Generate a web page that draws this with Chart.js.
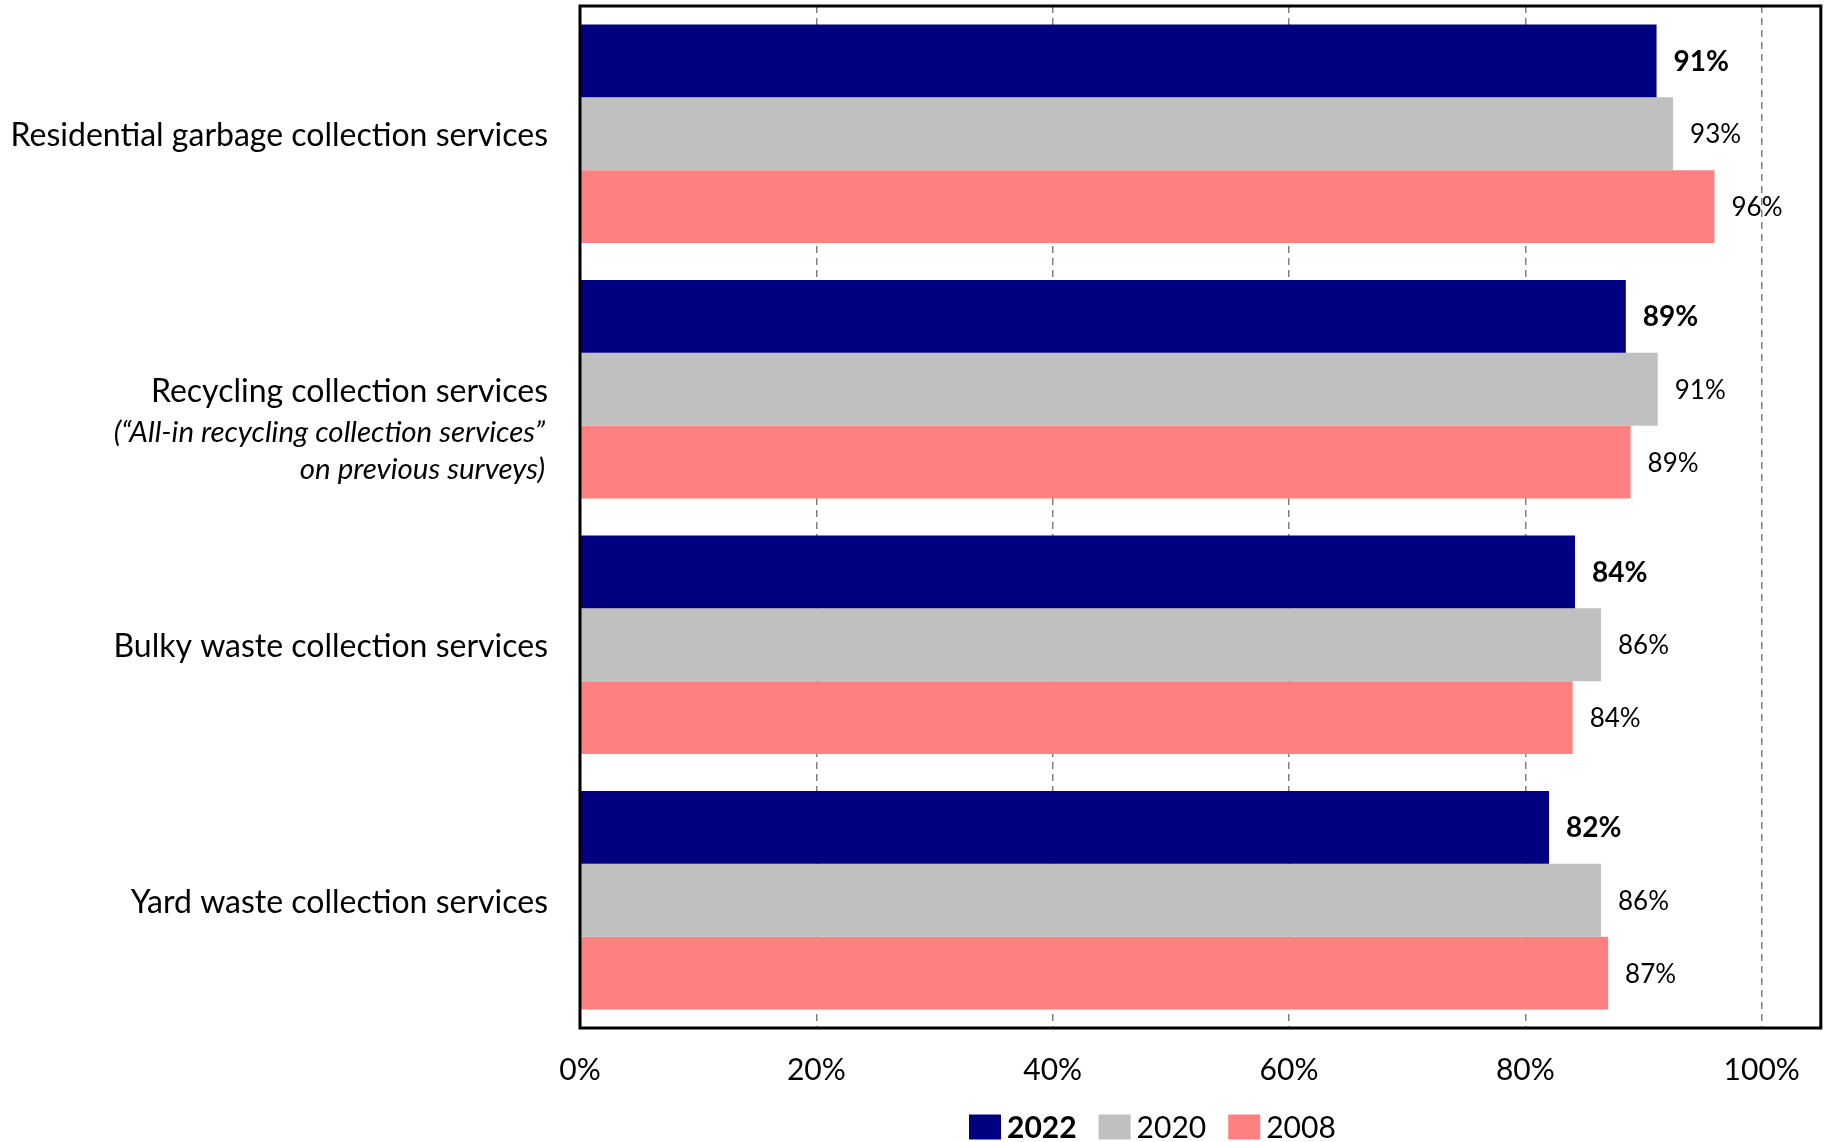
<!DOCTYPE html>
<html>
<head>
<meta charset="utf-8">
<script src="https://cdn.jsdelivr.net/npm/chart.js@4.4.0/dist/chart.umd.min.js"></script>
<style>
  html, body { margin: 0; padding: 0; background: #fff; }
  #wrap { width: 1824px; height: 1142px; }
</style>
</head>
<body>
<div id="wrap"><canvas id="grafico" width="1824" height="1142"></canvas></div>
<script>
const categorias = [
  ['Residential garbage collection services'],
  ['Recycling collection services', '(“All-in recycling collection services”', 'on previous surveys)'],
  ['Bulky waste collection services'],
  ['Yard waste collection services']
];
const anios = ['2022', '2020', '2008'];
const valores2022 = [91.1, 88.5, 84.2, 82.0];
const valores2020 = [92.5, 91.2, 86.4, 86.4];
const valores2008 = [96.0, 88.9, 84.0, 87.0];
const ticksX = [0, 20, 40, 60, 80, 100];
const colores = ['#000080', '#C0C0C0', '#FF8080'];
const fuente = 'Lato';

// etiquetas de categoria: primera linea normal, el resto en cursiva
const etiquetasCategoria = {
  id: 'etiquetasCategoria',
  afterDraw(chart) {
    const ctx = chart.ctx;
    const y = chart.scales.y;
    const xDer = chart.chartArea.left - 32;
    ctx.save();
    ctx.fillStyle = '#000';
    ctx.textAlign = 'right';
    ctx.textBaseline = 'middle';
    categorias.forEach((lineas, i) => {
      const yc = y.getPixelForValue(i);
      lineas.forEach((txt, j) => {
        if (j === 0) {
          ctx.font = `32px ${fuente}`;
          ctx.fillText(txt, xDer, yc + 2);
        } else {
          ctx.font = `italic 29.5px ${fuente}`;
          ctx.fillText(txt, xDer - 3, yc + 6 + j * 37);
        }
      });
    });
    ctx.restore();
  }
};

// valores al final de cada barra (2022 en negrita)
const etiquetasValor = {
  id: 'etiquetasValor',
  afterDatasetsDraw(chart) {
    const ctx = chart.ctx;
    ctx.save();
    ctx.fillStyle = '#000';
    ctx.textAlign = 'left';
    ctx.textBaseline = 'middle';
    chart.data.datasets.forEach((ds, d) => {
      const meta = chart.getDatasetMeta(d);
      ctx.font = (d === 0 ? 'bold 28px ' : '26px ') + fuente;
      meta.data.forEach((bar, i) => {
        ctx.fillText(Math.round(ds.data[i]) + '%', bar.x + 17, bar.y + 1);
      });
    });
    ctx.restore();
  }
};

// marco negro alrededor del area
const marco = {
  id: 'marco',
  afterDatasetsDraw(chart) {
    const a = chart.chartArea;
    const ctx = chart.ctx;
    ctx.save();
    ctx.strokeStyle = '#000';
    ctx.lineWidth = 3;
    ctx.strokeRect(a.left, a.top, a.right - a.left, a.bottom - a.top);
    ctx.restore();
  }
};

// leyenda abajo
const leyenda = {
  id: 'leyenda',
  afterDraw(chart) {
    const ctx = chart.ctx;
    const a = chart.chartArea;
    const caja = 32, alto = 25, sep = 6, entre = 22;
    const yc = 1127;
    ctx.save();
    ctx.textBaseline = 'middle';
    ctx.textAlign = 'left';
    const items = chart.data.datasets.map((ds, d) => {
      ctx.font = (d === 0 ? 'bold ' : '') + '30px ' + fuente;
      return { ds, d, w: caja + sep + ctx.measureText(ds.label).width };
    });
    const total = items.reduce((s, it) => s + it.w, 0) + entre * (items.length - 1);
    let x = (a.left + a.right) / 2 - 48 - total / 2;
    items.forEach(it => {
      ctx.fillStyle = it.ds.backgroundColor;
      ctx.fillRect(x, yc - alto / 2, caja, alto);
      ctx.fillStyle = '#000';
      ctx.font = (it.d === 0 ? 'bold ' : '') + '30px ' + fuente;
      ctx.fillText(it.ds.label, x + caja + sep, yc + 1);
      x += it.w + entre;
    });
    ctx.restore();
  }
};

const ctx = document.getElementById('grafico').getContext('2d');
new Chart(ctx, {
  type: 'bar',
  data: {
    labels: categorias.map(c => c[0]),
    datasets: [
      { label: anios[0], data: valores2022, backgroundColor: colores[0] },
      { label: anios[1], data: valores2020, backgroundColor: colores[1] },
      { label: anios[2], data: valores2008, backgroundColor: colores[2] }
    ]
  },
  options: {
    indexAxis: 'y',
    responsive: false,
    animation: false,
    devicePixelRatio: 1,
    layout: { padding: { left: 580, top: 6, right: 3, bottom: 0 } },
    datasets: { bar: { categoryPercentage: 0.856, barPercentage: 1.0 } },
    scales: {
      y: { display: false },
      x: {
        min: 0,
        max: 105,
        afterBuildTicks: s => { s.ticks = ticksX.map(v => ({ value: v })); },
        afterFit: s => { s.height = 114; },
        grid: {
          drawTicks: false,
          lineWidth: 1.5,
          color: c => (c.tick && c.tick.value === 0) ? 'rgba(0,0,0,0)' : '#808080'
        },
        border: { display: false, dash: [7, 5] },
        ticks: {
          padding: 24,
          color: '#000',
          font: { family: fuente, size: 30 },
          callback: v => v + '%'
        }
      }
    },
    plugins: {
      legend: { display: false },
      tooltip: { enabled: false }
    }
  },
  plugins: [etiquetasCategoria, etiquetasValor, marco, leyenda]
});
</script>
</body>
</html>
